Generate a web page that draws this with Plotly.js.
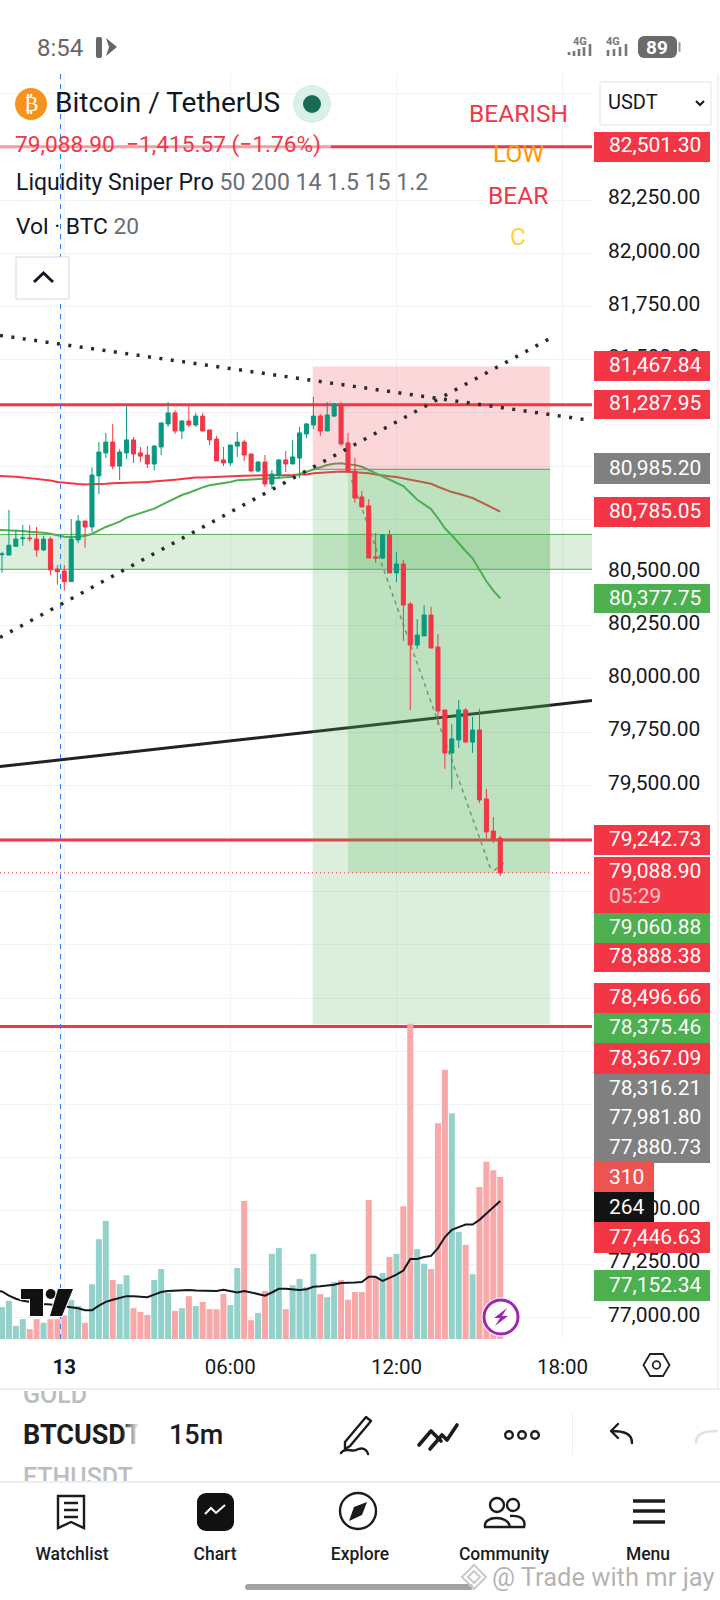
<!DOCTYPE html>
<html>
<head>
<meta charset="utf-8">
<script src="https://cdn.plot.ly/plotly-3.0.1.min.js"></script>
<style>
html,body{margin:0;padding:0;background:#fff;width:720px;height:1600px;overflow:hidden}
#chart{position:absolute;left:0;top:0;width:720px;height:1600px}
#chrome{position:absolute;left:0;top:0;width:720px;height:1600px;pointer-events:none;font-family:Roboto,sans-serif}
</style>
</head>
<body>
<div id="chart"></div>
<svg id="chrome" width="720" height="1600" viewBox="0 0 720 1600" xmlns="http://www.w3.org/2000/svg">
  <defs>
    <clipPath id="cGold"><rect x="0" y="1391" width="140" height="30"/></clipPath>
    <clipPath id="cEth"><rect x="0" y="1455" width="140" height="27"/></clipPath>
    <clipPath id="cBtc"><rect x="0" y="1410" width="139" height="40"/></clipPath>
    <linearGradient id="fadeT" x1="0" x2="1" y1="0" y2="0"><stop offset="0" stop-color="#fff" stop-opacity="0"/><stop offset="1" stop-color="#fff" stop-opacity="1"/></linearGradient>
  </defs>
  <!-- status bar -->
  <text x="37" y="56" font-size="24" fill="#666">8:54</text>
  <rect x="96" y="37" width="6" height="21" rx="2" fill="#666"/>
  <path d="M106 38 L117 47 L106 56 L109 47Z" fill="#666"/>
  <text x="573" y="45" font-size="11" font-weight="700" fill="#777">4G</text>
  <path d="M569 52v3M574 51v5M579 49v7M584 47v9M590 44v12" stroke="#777" stroke-width="2.6"/>
  <text x="606" y="45" font-size="11" font-weight="700" fill="#777">4G</text>
  <path d="M608 50v6M614 49v7M620 47v9M626 44v12" stroke="#777" stroke-width="2.6"/>
  <rect x="638" y="36" width="39" height="22" rx="6" fill="#6b6b6b"/>
  <text x="657" y="54" font-size="19" font-weight="700" fill="#fff" text-anchor="middle">89</text>
  <rect x="678.5" y="42" width="2" height="10" rx="1" fill="#999"/>
  <!-- TV logo -->
  <g stroke="#fff" stroke-width="2" paint-order="stroke" fill="#111">
    <path d="M21 1289H43V1316H30V1299H21Z"/>
    <circle cx="50.7" cy="1294" r="5"/>
    <path d="M58 1289H73L62 1316H50Z"/>
  </g>
  <!-- lightning -->
  <circle cx="501" cy="1317" r="19.5" fill="#fff"/>
  <circle cx="501" cy="1317" r="17" fill="#fff" stroke="#9c27b0" stroke-width="3"/>
  <path d="M507 1308L494 1318H500L495 1326L508 1316H502Z" fill="#9c27b0"/>
  <!-- axis settings -->
  <path d="M650 1365l6.500-11h13l6.500 11l-6.500 11h-13Z" transform="translate(-6.500 0)" fill="none" stroke="#222" stroke-width="1.800"/>
  <circle cx="656.500" cy="1365" r="3.800" fill="none" stroke="#222" stroke-width="1.800"/>
  <rect x="717.500" y="74" width="1" height="1315" fill="#e6e6e6"/>
  <rect x="0" y="1388" width="720" height="2" fill="#eeeeee"/>
  <!-- toolbar -->
  <text x="23" y="1403" font-size="25" font-weight="500" fill="#bdbdbd" clip-path="url(#cGold)">GOLD</text>
  <text x="23" y="1444" font-size="27" font-weight="700" fill="#1c1c1c" clip-path="url(#cBtc)">BTCUSDT</text>
  <rect x="122" y="1410" width="17" height="40" fill="url(#fadeT)"/>
  <text x="23" y="1486" font-size="25" font-weight="500" fill="#bdbdbd" clip-path="url(#cEth)">ETHUSDT</text>
  <text x="169" y="1444" font-size="27" font-weight="500" fill="#1c1c1c">15m</text>
  <g fill="none" stroke="#1c1c1c" stroke-width="2.400" stroke-linecap="round" stroke-linejoin="round">
    <path d="M345 1442L366 1417L371 1421L350 1446L345 1449Z"/>
    <path d="M341 1453C345 1447 352 1452 356 1450C360 1448 366 1447 368 1454"/>
    <path d="M419 1445L431 1431L441 1441M430 1449L442 1435L447 1440L457 1425" stroke-width="3.600"/>
    <circle cx="509" cy="1435" r="3.800"/><circle cx="522" cy="1435" r="3.800"/><circle cx="535" cy="1435" r="3.800"/>
    <path d="M632 1443C632 1434 625 1431 611 1431M618 1424L611 1431L618 1438"/>
    <path d="M696 1443C696 1434 703 1431 717 1431" stroke="#e2e2e2"/>
  </g>
  <rect x="572" y="1414" width="1" height="41" fill="#eeeeee"/>
  <rect x="0" y="1481" width="720" height="2" fill="#eeeeee"/>
  <!-- nav icons -->
  <g fill="none" stroke="#1c1c1c" stroke-width="2.400">
    <path d="M58 1496H84V1528L71 1522L58 1528Z"/>
    <path d="M64 1503H78M64 1510H78M64 1517H78"/>
    <circle cx="358" cy="1511" r="18"/>
    <circle cx="497" cy="1505" r="7"/><circle cx="513" cy="1505" r="6"/>
    <path d="M485 1527C483 1515 509 1515 510 1527ZM510 1516C522 1515 526 1521 524 1527H510"/>
  </g>
  <rect x="197" y="1493" width="37" height="38" rx="9" fill="#111"/>
  <path d="M205 1514L211 1508L216 1513L225 1505" fill="none" stroke="#fff" stroke-width="2"/>
  <path d="M367 1502L362 1515L349 1521L354 1507Z" fill="#1c1c1c"/>
  <path d="M633 1501H665M633 1511H665M633 1522H665" stroke="#1c1c1c" stroke-width="3.400"/>
  <g font-size="17.500" font-weight="500" fill="#1c1c1c" text-anchor="middle">
    <text x="72" y="1560">Watchlist</text>
    <text x="215" y="1560">Chart</text>
    <text x="360" y="1560">Explore</text>
    <text x="504" y="1560">Community</text>
    <text x="648" y="1560">Menu</text>
  </g>
  <rect x="245" y="1584" width="228" height="6" rx="3" fill="#a3a3a3"/>
  <text x="492" y="1586" font-size="25.500" fill="#9a9a9a" fill-opacity="0.75" stroke="#fff" stroke-width="1.500" paint-order="stroke">@ Trade with mr jay</text>
  <g fill="none" stroke="#c9c9c9" stroke-width="2"><path d="M474 1565L486 1577L474 1589L462 1577Z"/><path d="M474 1571L480 1577L474 1583L468 1577Z"/></g>
</svg>
<script>
var firstBar = -9;
var candleOpen = [80584,80582,80623,80659,80662,80657,80606,80657,80516,80507,
80457,80653,80742,80714,80954,81062,81113,81000,81062,81123,
81062,81052,81010,81090,81198,81250,81165,81212,81193,81235,
81170,81127,81029,81015,81094,81113,81057,80977,81019,80916,
80958,81029,81010,81038,81151,81193,81235,81165,81235,81287,
81109,80977,80855,80813,80573,80568,80676,80498,80540,80352,
80159,80202,80300,80150,79854,79652,79713,79854,79703,79760,
79436,79285,79252];
var candleHigh = [80598,80794,80700,80723,80723,80714,80672,80668,80535,80535,
80751,80770,80742,80994,81113,81156,81198,81080,81282,81137,
81090,81094,81099,81203,81301,81264,81217,81282,81250,81250,
81170,81141,81090,81099,81160,81123,81057,81024,81052,80982,
81033,81071,81123,81184,81203,81325,81245,81301,81297,81301,
81156,81038,80883,80845,80686,80681,80700,80596,80559,80361,
80281,80347,80338,80211,79854,79788,79901,79863,79821,79859,
79483,79351,79262];
var candleLow = [80499,80582,80621,80626,80645,80574,80601,80488,80443,80415,
80457,80637,80617,80687,80869,81038,80986,80935,81033,81015,
81019,80991,80979,81052,81184,81151,81127,81184,81184,81165,
81099,81024,81000,81000,81043,81024,80972,80972,80902,80892,
80939,80972,81010,80944,81132,81174,81141,81165,81231,81094,
80972,80827,80808,80568,80545,80563,80498,80455,80178,79854,
80141,80202,80145,79783,79577,79483,79675,79703,79652,79417,
79252,79229,79074];
var candleClose = [80587,80628,80657,80662,80659,80606,80657,80512,80504,80457,
80657,80742,80714,80958,81066,81113,81000,81066,81123,81057,
81047,81010,81094,81203,81250,81165,81212,81193,81235,81165,
81123,81024,81015,81099,81113,81052,80977,81019,80916,80963,
81029,81010,81043,81156,81198,81235,81165,81240,81292,81104,
80972,80850,80808,80568,80568,80676,80498,80540,80347,80159,
80206,80300,80145,79849,79652,79718,79854,79703,79760,79431,
79281,79248,79088.9];
var volume = [61,73,25,38,19,38,31,38,38,45,
75,63,31,105,191,226,113,105,122,59,
52,46,113,134,88,54,59,82,63,71,
57,57,86,65,136,264,36,50,92,163,
174,57,103,115,99,163,86,80,109,113,
75,90,90,266,119,126,157,163,254,603,
172,144,134,413,515,432,205,180,124,291,
339,323,310];
var lineStartBar = -10;
var volumeMA = [93,91,83,77,73,71,68,67,66,64,63,
61,59,55,55,64,71,75,78,82,82,
81,80,85,90,92,93,94,94,93,93,
92,92,94,92,89,92,89,85,83,89,
96,96,95,94,95,100,101,102,104,107,
107,108,109,119,119,111,117,123,131,153,
153,157,159,174,195,209,214,219,219,228,
240,252,264];
var ema200 = [80955,80954,80952,80950,80947,80944,80941,80938,80932,80925,80921,
80917,80916,80914,80914,80916,80917,80919,80921,80922,80924,
80924,80925,80927,80930,80933,80936,80939,80943,80946,80947,
80949,80950,80952,80954,80954,80955,80955,80955,80955,80955,
80957,80957,80958,80960,80961,80966,80969,80972,80974,80975,
80974,80972,80971,80966,80960,80955,80952,80949,80941,80936,
80930,80924,80917,80903,80891,80878,80870,80859,80850,80834,
80819,80802,80786];
var ema50 = [80701,80700,80698,80697,80695,80692,80690,80687,80682,80675,80668,
80667,80667,80673,80681,80698,80714,80726,80739,80758,80769,
80780,80789,80800,80817,80833,80849,80864,80875,80888,80900,
80910,80914,80919,80925,80933,80936,80938,80939,80941,80943,
80944,80946,80950,80963,80974,80986,80994,81005,81011,81013,
81008,81005,80997,80982,80968,80954,80938,80924,80906,80875,
80842,80820,80798,80755,80708,80675,80637,80601,80567,80515,
80459,80415,80379];

var priceTicks = [77000,77250,77500,77750,78000,78250,78500,78750,79000,79250,79500,79750,80000,80250,80500,80750,81000,81250,81500,81750,82000,82250,82500,82750];
var priceTickText = ['77,000.00','77,250.00','77,500.00','','','','','','','','79,500.00','79,750.00','80,000.00','80,250.00','80,500.00','','','','81,500.00','81,750.00','82,000.00','82,250.00','',''];
var timeTickBars = [0,24,48,72];
var timeTickText = ['<b>13</b>','06:00','12:00','18:00'];

var redLevels = [82501.30,81287.95,79242.73,78367.09];
var lastPrice = 79088.90;
var bandTop = 80679, bandBottom = 80515;
var shortStop = 81467.84, entry = 80985.20, target = 78375.46;
var fallTrendBars = [-9.29,76], fallTrendPrices = [81614,81215];
var riseTrendBars = [-9.29,70.3], riseTrendPrices = [80195,81602];
var blackTrendBars = [-9.29,76.26], blackTrendPrices = [79588,79898];
var zigBars = [41.53,61.5,62.2,63.7], zigPrices = [80935,79117,79102,79141];
var zoneStartBar = 35.9, zoneInnerBar = 41, zoneEndBar = 70.2;

var tagText   = ['82,501.30','81,467.84','81,287.95','80,985.20','80,785.05','80,377.75','79,242.73','79,088.90','79,060.88','78,888.38','78,496.66','78,375.46','78,367.09','78,316.21','77,981.80','77,880.73','310','264','77,446.63','77,152.34'];
var tagColor  = ['#f23645','#f23645','#f23645','#808080','#f23645','#4caf50','#f23645','#f23645','#4caf50','#f23645','#f23645','#4caf50','#f23645','#808080','#808080','#808080','#ef5350','#131313','#f23645','#4caf50'];
var tagTop    = [132,351,390,453,497,584,825,857,913,943,983,1013,1043,1074,1103,1133,1162,1192,1222,1270];
var tagBottom = [162,381,419,484,527,613,855,913,943,972,1013,1043,1074,1103,1133,1163,1192,1223,1253,1301];
var tagRight  = [710,710,710,710,710,710,710,710,710,710,710,710,710,710,710,710,654,654,710,710];
var tagTextY  = [145,365,403,468,511,598,839,871,927,956,997,1027,1058,1088,1117,1147,1177,1207,1237,1285];

var plotL = 0, plotR = 592, plotT = 74, plotB = 1339;
function px(x){ return (x-plotL)/(plotR-plotL); }
function py(y){ return 1-(y-plotT)/(plotB-plotT); }

var bars = candleOpen.map(function(_,n){ return firstBar+n; });
var lineBars = [lineStartBar].concat(bars);
var xMin = -9.29, xMax = 76.26;
var priceRange = [76898,82842.6];
var volRange = [0,2420.6];

var traces = [];
function level(x,y,color,width,dash,yaxis){
  traces.push({type:'scatter',mode:'lines',x:x,y:y,xaxis:'x',yaxis:yaxis||'y',
    line:{color:color,width:width,dash:dash||'solid'},hoverinfo:'skip',showlegend:false});
}
// bottom layer: lines that the zones tint
redLevels.forEach(function(v){ level([xMin,xMax],[v,v],'#f23645',3); });
level(blackTrendBars,blackTrendPrices,'#222222',3);
level(lineBars,ema200,'#f23645',2);
level(lineBars,ema50,'#4caf50',2);
level(zigBars,zigPrices,'#8a8a8a',1.5,'4px,4px');

// zones
function zone(x0,x1,y0,y1,fill,lineColor){
  traces.push({type:'scatter',mode:'lines',x:[x0,x1,x1,x0,x0],y:[y0,y0,y1,y1,y0],xaxis:'x',yaxis:'y2',
    fill:'toself',fillcolor:fill,line:{color:lineColor||'rgba(0,0,0,0)',width:lineColor?1:0},hoverinfo:'skip',showlegend:false});
}
zone(zoneStartBar,zoneEndBar,entry,shortStop,'rgba(242,54,69,0.2)');
zone(zoneStartBar,zoneEndBar,target,entry,'rgba(76,175,80,0.2)');
zone(zoneInnerBar,zoneEndBar,lastPrice,entry,'rgba(76,175,80,0.2)');
zone(xMin-1,xMax+1,bandBottom,bandTop,'rgba(76,175,80,0.2)','#4caf50');
level([zoneStartBar,zoneEndBar],[entry,entry],'#808080',1,'solid','y2');

// volume
traces.push({type:'bar',x:bars,y:volume,xaxis:'x',yaxis:'y4',width:0.87,
  marker:{color:volume.map(function(_,n){return candleClose[n]>=candleOpen[n]?'#93d2ca':'#f8a8a8';}),line:{width:0}},
  hoverinfo:'skip',showlegend:false});
level(lineBars,volumeMA,'#131722',2,'solid','y4');

// candles and top lines
traces.push({type:'candlestick',x:bars,open:candleOpen,high:candleHigh,low:candleLow,close:candleClose,
  xaxis:'x',yaxis:'y3',whiskerwidth:0,
  increasing:{line:{color:'#089981',width:1},fillcolor:'#089981'},
  decreasing:{line:{color:'#f23645',width:1},fillcolor:'#f23645'},
  hoverinfo:'skip',showlegend:false});
level(fallTrendBars,fallTrendPrices,'#2a2a2a',3.5,'3px,8.5px','y3');
level(riseTrendBars,riseTrendPrices,'#2a2a2a',3.5,'3px,8.5px','y3');
level([xMin,xMax],[lastPrice,lastPrice],'#f23645',1,'1px,3px','y3');

var shapes = [];
var annotations = [];
function note(x,y,text,size,color,anchor,opts){
  var a = {xref:'paper',yref:'paper',x:px(x),y:py(y),text:text,showarrow:false,xanchor:anchor||'left',yanchor:'middle',
    font:{family:'Roboto',size:size,color:color},borderpad:0};
  if(opts){ for(var k in opts){ a[k]=opts[k]; } }
  annotations.push(a);
}
function box(x0,y0,x1,y1,fill,line){
  shapes.push({type:'rect',xref:'paper',yref:'paper',x0:px(x0),x1:px(x1),y0:py(y0),y1:py(y1),layer:'above',fillcolor:fill,
    line:{color:line||'rgba(0,0,0,0)',width:line?1:0}});
}
// crosshair line
shapes.push({type:'line',xref:'paper',yref:'paper',x0:px(60.5),x1:px(60.5),y0:0,y1:1,layer:'above',line:{color:'#2f7bf0',width:1,dash:'5px,5px'}});
// tags
tagText.forEach(function(t,n){
  box(594,tagTop[n],tagRight[n],tagBottom[n],tagColor[n]);
  note(608,tagTextY[n],t,21,'#ffffff');
});
note(608,896,'05:29',21,'#fbc4c8');
// legend
box(0,142,331,150,'rgba(255,255,255,0.5)');
note(54,103,'Bitcoin / TetherUS',28,'#131722');
note(14,144,'79,088.90&nbsp;&nbsp;−1,415.57 (−1.76%)',22.7,'#f23645');
note(15,183,'Liquidity Sniper Pro <span style="fill:#6a6d78">50 200 14 1.5 15 1.2</span>',23,'#131722');
note(15,227,'Vol · BTC <span style="fill:#6a6d78">20</span>',22.8,'#131722');
note(518,113,'BEARISH',24.5,'#f23645','center');
note(518,154,'LOW',24.5,'#ff9800','center');
note(518,195,'BEAR',24.5,'#f23645','center');
note(518,236,'C',24.5,'#ffd23c','center');
// currency box
box(600,82,711,125,'#ffffff','#e0e3eb');
note(607,102,'USDT',20,'#131722');
shapes.push({type:'path',xref:'paper',yref:'paper',layer:'above',line:{color:'#131722',width:2},
  path:'M'+px(696)+','+py(101)+' L'+px(700)+','+py(105)+' L'+px(704)+','+py(101)});
// collapse button
box(16,257,69,299,'#ffffff','#d5d7dd');
shapes.push({type:'path',xref:'paper',yref:'paper',layer:'above',line:{color:'#131722',width:3},
  path:'M'+px(34)+','+py(282)+' L'+px(43.5)+','+py(273)+' L'+px(53)+','+py(282)});
// coin icon
shapes.push({type:'circle',xref:'paper',yref:'paper',layer:'above',x0:px(15),x1:px(47),y0:py(88),y1:py(120),fillcolor:'#f7931a',line:{width:0}});
note(31,104,'₿',21,'#ffffff','center',{font:{family:'DejaVu Sans',size:21,color:'#ffffff'}});
shapes.push({type:'circle',xref:'paper',yref:'paper',layer:'above',x0:px(293),x1:px(331),y0:py(85),y1:py(123),fillcolor:'#d9efea',line:{width:0}});
shapes.push({type:'circle',xref:'paper',yref:'paper',layer:'above',x0:px(303),x1:px(321),y0:py(95),y1:py(113),fillcolor:'#1a6b52',line:{width:0}});

var grid = '#f1f2f4';
var layout = {
  width:720,height:1600,margin:{l:plotL,r:720-plotR,t:plotT,b:1600-plotB,pad:0},
  paper_bgcolor:'#ffffff',plot_bgcolor:'#ffffff',showlegend:false,hovermode:false,dragmode:false,
  font:{family:'Roboto',color:'#131722'},
  barmode:'overlay',boxgap:0.35,boxgroupgap:0.1,
  xaxis:{type:'linear',range:[xMin,xMax],tickmode:'array',tickvals:timeTickBars,ticktext:timeTickText,showgrid:true,gridcolor:grid,gridwidth:1,
    zeroline:false,showline:false,ticks:'',ticklabelstandoff:13,tickfont:{family:'Roboto',size:20.5,color:'#131722'},
    rangeslider:{visible:false},fixedrange:true},
  yaxis:{side:'right',range:priceRange,tickmode:'array',tickvals:priceTicks,ticktext:priceTickText,showgrid:true,gridcolor:grid,gridwidth:1,
    zeroline:false,showline:false,ticks:'',ticklabelstandoff:15,ticklabelshift:-3,tickfont:{family:'Roboto',size:21,color:'#131722'},fixedrange:true},
  yaxis2:{overlaying:'y',side:'right',range:priceRange,visible:false,fixedrange:true},
  yaxis3:{overlaying:'y',side:'right',range:priceRange,visible:false,fixedrange:true},
  yaxis4:{overlaying:'y',side:'right',range:volRange,visible:false,fixedrange:true},
  shapes:shapes,annotations:annotations
};
Plotly.newPlot('chart',traces,layout,{staticPlot:true,displayModeBar:false,responsive:false});
</script>
</body>
</html>
